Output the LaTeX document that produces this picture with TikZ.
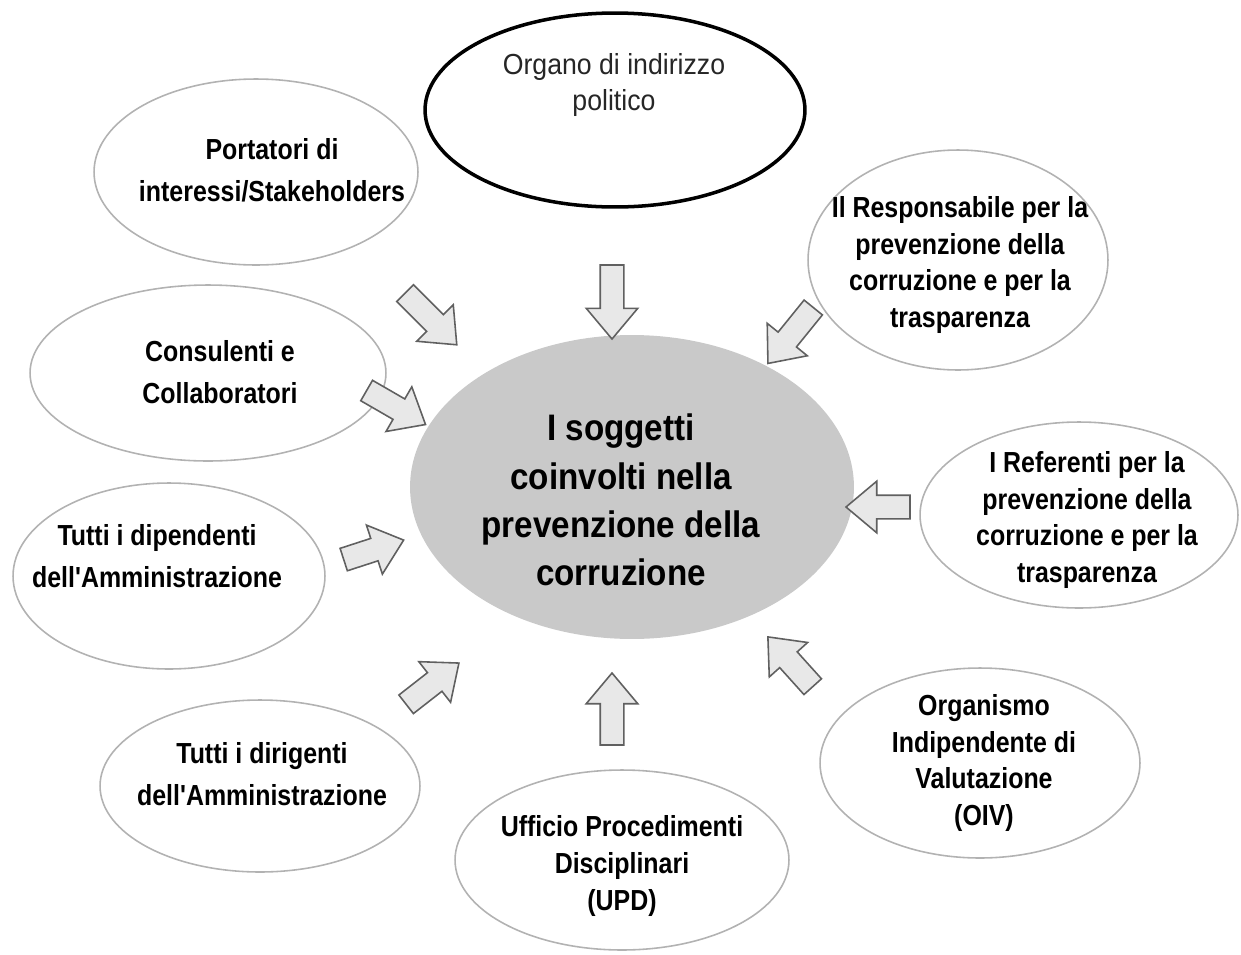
\documentclass[tikz,border=0pt]{standalone}
\usepackage{fontspec}
\setmainfont{Liberation Sans}
\newfontfamily\narrowfont[FakeStretch=0.86]{Liberation Sans}
\newfontfamily\plainfont[FakeStretch=0.92]{Liberation Sans}
\newfontfamily\centrefont[FakeStretch=0.9]{Liberation Sans}
\usetikzlibrary{shapes.geometric,shapes.arrows}
\tikzset{outer node/.style={ellipse,draw=gray!60,line width=0.9pt,inner sep=0pt},
	text node/.style={align=center,font=\narrowfont\bfseries\fontsize{16.5}{21}\selectfont},
	two lines/.style={font=\narrowfont\bfseries\fontsize{16.5}{24}\selectfont},
	centre text/.style={align=center,font=\centrefont\bfseries\fontsize{21}{27.5}\selectfont},
	block arrow/.style={single arrow,draw=gray!75!black,fill=gray!18,line width=0.9pt,
		inner xsep=0pt,inner ysep=0.22cm,single arrow head extend=0.28cm,single arrow tip angle=80},
}

\begin{document}
\begin{tikzpicture}[x=0.02cm,y=-0.02cm]
	\useasboundingbox (0,0) rectangle (1241,954);
	% centre
	\node[ellipse,fill=gray!42,minimum width=8.88cm,minimum height=6.08cm,inner sep=0pt] (0) at (632,487) {};
	\node[centre text] (t0) at (621,500) {I soggetti\\coinvolti nella\\prevenzione della\\corruzione};
	
	% outer ellipses
	\node[outer node,draw=black,line width=2pt,minimum width=7.6cm,minimum height=3.88cm] (1) at (615,110) {};
	\node[text node,font=\plainfont\fontsize{16.5}{21}\selectfont,text=black!85] (t1) at (614,85) {Organo di indirizzo\\politico};
	\node[outer node,minimum width=6.48cm,minimum height=3.72cm] (2) at (256,172) {};
	\node[text node,two lines] (t2) at (272,170) {Portatori di\\interessi/Stakeholders};
	\node[outer node,minimum width=6.0cm,minimum height=4.4cm] (3) at (958,260) {};
	\node[text node] (t3) at (960,265) {Il Responsabile per la\\prevenzione della\\corruzione e per la\\trasparenza};
	\node[outer node,minimum width=7.12cm,minimum height=3.52cm] (4) at (208,373) {};
	\node[text node,two lines] (t4) at (220,372) {Consulenti e\\Collaboratori};
	\node[outer node,minimum width=6.36cm,minimum height=3.72cm] (5) at (1079,515) {};
	\node[text node] (t5) at (1087,520) {I Referenti per la\\prevenzione della\\corruzione e per la\\trasparenza};
	\node[outer node,minimum width=6.24cm,minimum height=3.72cm] (6) at (169,576) {};
	\node[text node,two lines] (t6) at (157,556) {Tutti i dipendenti\\dell'Amministrazione};
	\node[outer node,minimum width=6.4cm,minimum height=3.44cm] (7) at (260,786) {};
	\node[text node,two lines] (t7) at (262,774) {Tutti i dirigenti\\dell'Amministrazione};
	\node[outer node,minimum width=6.68cm,minimum height=3.6cm] (8) at (622,860) {};
	\node[text node] (t8) at (622,866) {Ufficio Procedimenti\\Disciplinari\\(UPD)};
	\node[outer node,minimum width=6.4cm,minimum height=3.8cm] (9) at (980,763) {};
	\node[text node] (t9) at (984,763) {Organismo\\Indipendente di\\Valutazione\\(OIV)};
	
	% block arrows
	\node[block arrow,rotate=-90,minimum height=1.48cm] (a1) at (612,295) {};
	\node[block arrow,rotate=-45,minimum height=1.46cm] (a2) at (426,314) {};
	\node[block arrow,rotate=-129,minimum height=1.44cm] (a3) at (795,330) {};
	\node[block arrow,rotate=-30,minimum height=1.36cm] (a4) at (390,404) {};
	\node[block arrow,rotate=180,minimum height=1.28cm] (a5) at (885,507) {};
	\node[block arrow,rotate=18,minimum height=1.26cm] (a6) at (367,552) {};
	\node[block arrow,rotate=38,minimum height=1.34cm] (a7) at (427,688) {};
	\node[block arrow,rotate=90,minimum height=1.44cm] (a8) at (612,716) {};
	\node[block arrow,rotate=132,minimum height=1.34cm] (a9) at (795,667) {};
\end{tikzpicture}
\end{document}
